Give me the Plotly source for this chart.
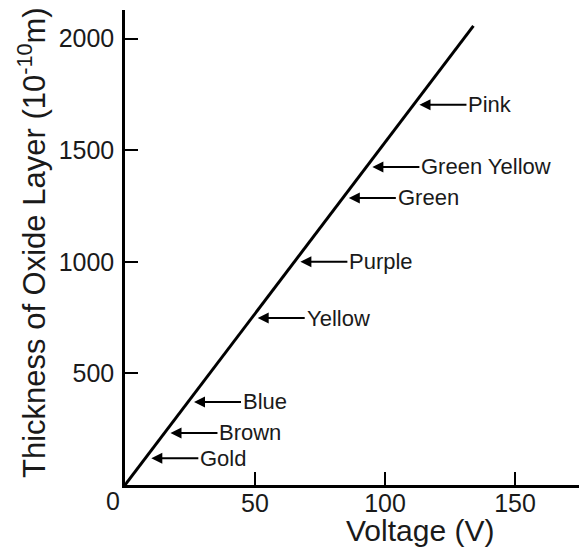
import plotly.graph_objects as go

# Oxide growth line (voltage vs. oxide thickness)
voltage = [0, 134]
thickness = [0, 2057]

# Interference colours and the oxide thickness at which each appears
color_names = ["Gold", "Brown", "Blue", "Yellow", "Purple", "Green", "Green Yellow", "Pink"]
color_thickness = [120, 233, 372, 748, 1000, 1286, 1425, 1703]

x_ticks = [50, 100, 150]
y_ticks = [500, 1000, 1500, 2000]

FONT = "Liberation Sans, Arial, sans-serif"
INK = "#1a1a1a"
slope = thickness[1] / voltage[1]

fig = go.Figure()
fig.add_trace(go.Scatter(
    x=voltage, y=thickness, mode="lines",
    line=dict(color="black", width=3), showlegend=False, hoverinfo="skip",
))

annotations = []
for name, t in zip(color_names, color_thickness):
    annotations.append(dict(
        x=t / slope, y=t, xref="x", yref="y",
        text=name, showarrow=True, ax=53, ay=0,
        xanchor="left", yanchor="middle",
        arrowhead=2, arrowsize=1.1, arrowwidth=2, arrowcolor="black",
        standoff=6, font=dict(family=FONT, size=22, color=INK),
    ))

# Shared origin label
annotations.append(dict(
    x=0, y=0, xref="x", yref="y", text="0", showarrow=False,
    xanchor="center", yanchor="middle", xshift=-12, yshift=-16,
    font=dict(family=FONT, size=25, color=INK),
))
# Axis titles, placed in pixel terms then converted to plot-area fractions
annotations.append(dict(
    x=420, y=530, xref="paper", yref="paper", text="Voltage (V)", showarrow=False,
    xanchor="center", yanchor="middle", borderpad=0,
    font=dict(family=FONT, size=30, color=INK),
))
annotations.append(dict(
    x=32, y=243, xref="paper", yref="paper",
    text="Thickness of Oxide Layer (10<sup>-10</sup>m)", showarrow=False, textangle=-90,
    xanchor="center", yanchor="middle",
    font=dict(family=FONT, size=31, color=INK),
))

L, R, T, B = 125, 0, 10, 64
W, H = 579, 549
pw, ph = W - L - R, H - T - B
for a in annotations:
    if a["xref"] == "paper":
        a["x"] = (a["x"] - L) / pw
        a["y"] = 1 - (a["y"] - T) / ph

axis_style = dict(
    ticks="inside", ticklen=13, tickwidth=2, tickcolor="black",
    showline=True, linecolor="black", linewidth=2.5,
    showgrid=False, zeroline=False,
    tickfont=dict(family=FONT, size=25, color=INK),
)

fig.update_layout(
    width=W, height=H,
    margin=dict(l=L, r=R, t=T, b=B),
    plot_bgcolor="white", paper_bgcolor="white",
    annotations=annotations,
    xaxis=dict(range=[0, 174.6], tickvals=x_ticks, ticklabelstandoff=-6, **axis_style),
    yaxis=dict(range=[0, 2128], tickvals=y_ticks, ticklabelstandoff=3, **axis_style),
)

fig.write_html("out.html")
